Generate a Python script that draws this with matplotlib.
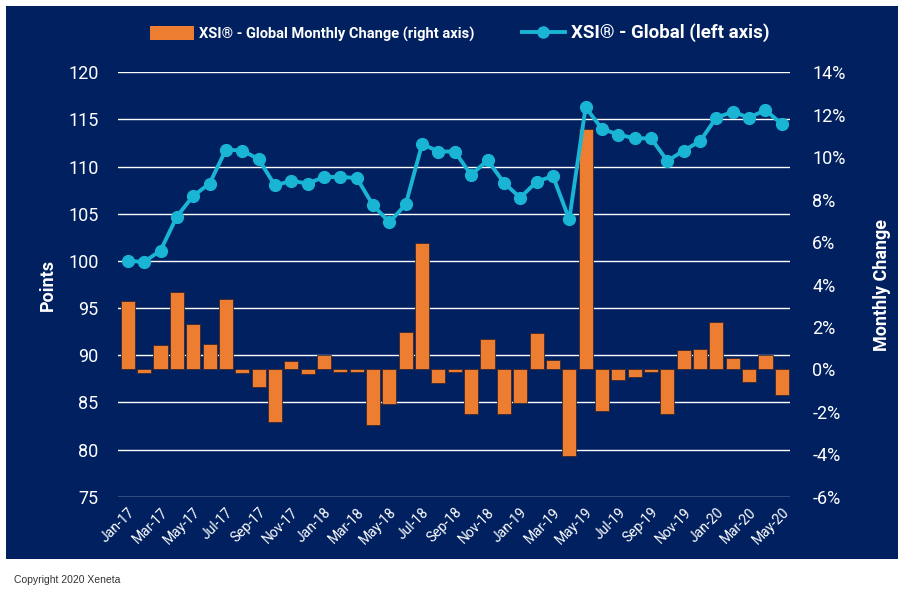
import numpy as np
import matplotlib
matplotlib.use("Agg")
import matplotlib.pyplot as plt
from matplotlib.patches import Rectangle, Patch
from matplotlib.lines import Line2D
from matplotlib.ticker import FuncFormatter

plt.rcParams['font.family'] = ['Roboto', 'DejaVu Sans']

months = ['Jan-17', 'Feb-17', 'Mar-17', 'Apr-17', 'May-17', 'Jun-17', 'Jul-17', 'Aug-17',
          'Sep-17', 'Oct-17', 'Nov-17', 'Dec-17', 'Jan-18', 'Feb-18', 'Mar-18', 'Apr-18',
          'May-18', 'Jun-18', 'Jul-18', 'Aug-18', 'Sep-18', 'Oct-18', 'Nov-18', 'Dec-18',
          'Jan-19', 'Feb-19', 'Mar-19', 'Apr-19', 'May-19', 'Jun-19', 'Jul-19', 'Aug-19',
          'Sep-19', 'Oct-19', 'Nov-19', 'Dec-19', 'Jan-20', 'Feb-20', 'Mar-20', 'Apr-20',
          'May-20']

# XSI Global index (left axis, points)
xsi_global = [100.0, 99.9, 101.1, 104.7, 106.9, 108.2, 111.8, 111.7, 110.8, 108.0,
              108.5, 108.2, 108.9, 108.9, 108.8, 105.9, 104.1, 106.0, 112.4, 111.6,
              111.6, 109.1, 110.7, 108.3, 106.7, 108.4, 109.0, 104.4, 116.3, 114.0,
              113.4, 113.0, 113.0, 110.6, 111.7, 112.7, 115.2, 115.8, 115.2, 116.0,
              114.5]

# monthly change in % (right axis)
monthly_change = [3.2, -0.16, 1.15, 3.65, 2.15, 1.19, 3.32, -0.16, -0.82, -2.5,
                  0.39, -0.22, 0.67, -0.1, -0.12, -2.6, -1.62, 1.76, 5.94, -0.66,
                  -0.1, -2.12, 1.41, -2.12, -1.6, 1.7, 0.44, -4.07, 11.32, -1.94,
                  -0.5, -0.38, -0.1, -2.08, 0.91, 0.96, 2.23, 0.55, -0.58, 0.66,
                  -1.2]

navy = '#002060'
orange = '#ED7D31'
cyan = '#1AB4D4'

x = np.arange(len(months))

fig = plt.figure(figsize=(9.05, 5.97), dpi=100)
fig.patch.set_facecolor('white')
fig.patches.append(Rectangle((6 / 905, 1 - 559 / 597), 892 / 905, 553 / 597,
                             transform=fig.transFigure, facecolor=navy,
                             edgecolor='none', zorder=-10))

ax = fig.add_axes([118 / 905, 1 - 496.7 / 597, 672 / 905, 424.4 / 597])
ax.set_facecolor('none')
ax.set_ylim(75, 120)
ax.set_yticks(np.arange(75, 121, 5))
ax.set_xlim(-0.6, 40.5)
ax.grid(axis='y', color='white', linewidth=1.0)
ax.set_axisbelow(True)

ax2 = ax.twinx()
ax2.bar(x, monthly_change, width=0.86, color=orange, edgecolor='#3a2a30',
        linewidth=0.6, zorder=2)
ax2.set_ylim(-6, 14)
ax2.set_yticks(np.arange(-6, 15, 2))
ax2.yaxis.set_major_formatter(FuncFormatter(lambda v, p: f'{v:.0f}%'))

ax3 = ax.twinx()
ax3.plot(x, xsi_global, color=cyan, linewidth=2.8, marker='o', markersize=8.5,
         zorder=3)
ax3.set_ylim(75, 120)
ax3.set_yticks([])

for a in (ax, ax2, ax3):
    for s in a.spines.values():
        s.set_visible(False)
    a.tick_params(length=0, colors='white')

ax.set_xticks(x[::2])
ax.set_xticklabels(months[::2], rotation=45, ha='right', rotation_mode='anchor',
                   fontsize=10, color='white')
ax.tick_params(axis='x', pad=6)
ax.tick_params(axis='y', labelsize=13, pad=14)
ax2.tick_params(axis='y', labelsize=13, pad=16)
for lab in ax2.get_yticklabels():
    lab.set_horizontalalignment('left')

ax.set_ylabel('Points', color='white', fontsize=13, fontweight='bold', labelpad=8)
ax2.set_ylabel('Monthly Change', color='white', fontsize=13, fontweight='bold',
               labelpad=20)

handles = [Patch(facecolor=orange, edgecolor='none'),
           Line2D([], [], color=cyan, linewidth=2.8, marker='o', markersize=8)]
leg = fig.legend(handles,
                 ['XSI® - Global Monthly Change (right axis)', 'XSI® - Global (left axis)'],
                 loc='center', bbox_to_anchor=(0.508, 1 - 33 / 597), ncol=2,
                 frameon=False, handlelength=3.0, handleheight=1.1, columnspacing=3.2,
                 handletextpad=0.4, prop={'weight': 'bold', 'size': 10.5})
for t in leg.get_texts():
    t.set_color('white')
leg.get_texts()[1].set_fontsize(13.5)

fig.text(14 / 905, 1 - 580 / 597, 'Copyright 2020 Xeneta', color='#333333',
         fontsize=7.5, family=['Liberation Sans', 'DejaVu Sans'], va='center')

fig.savefig('out.png', dpi=100, facecolor=fig.get_facecolor())
